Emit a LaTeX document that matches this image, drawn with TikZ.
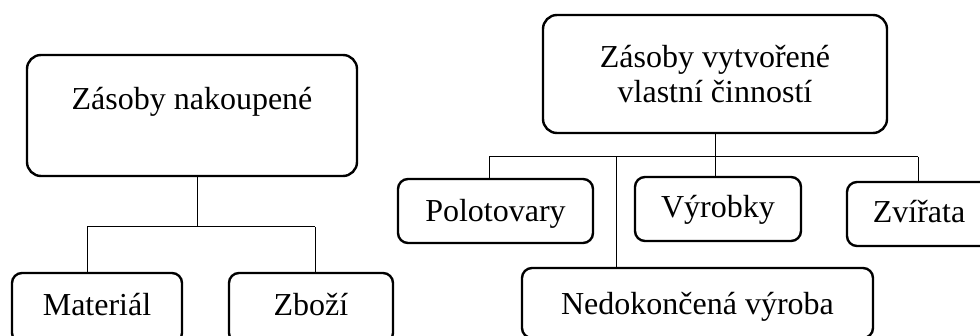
\documentclass[tikz,border=0pt]{standalone}
\usepackage{fontspec}
\setmainfont{Liberation Serif}
\begin{document}
\begin{tikzpicture}[x=1pt,y=-1pt,
  box/.style={draw, line width=2.4pt, rounded corners=10pt, inner sep=0pt,
    font=\fontsize{32}{35}\selectfont, align=center},
  conn/.style={draw, line width=1pt}]
\useasboundingbox (0,0) rectangle (980,336);
\clip (0,0) rectangle (980,336);
% left tree
\node[box, rounded corners=14pt, minimum width=330pt, minimum height=121pt,
  text height=0pt, text depth=11pt] (A) at (192,115.5) {Zásoby nakoupené};
\node[box, minimum width=170pt, minimum height=70pt,
  text height=16pt, text depth=0pt] (Mat) at (97,308) {Materiál};
\node[box, minimum width=164pt, minimum height=70pt,
  text height=16pt, text depth=0pt] (Zb) at (311,308) {Zboží};
% right tree
\node[box, rounded corners=14pt, minimum width=344pt, minimum height=118pt] (B) at (715,74)
  {Zásoby vytvořené\\vlastní činností};
\node[box, minimum width=195pt, minimum height=64pt,
  text height=22pt, text depth=0pt] (Pol) at (495.5,211) {Polotovary};
\node[box, minimum width=166pt, minimum height=64pt,
  text height=18pt, text depth=0pt] (Vyr) at (718,209) {Výrobky};
\node[box, minimum width=144pt, minimum height=64pt,
  text height=18pt, text depth=0pt] (Zv) at (919,214) {Zvířata};
\node[box, minimum width=351pt, minimum height=70pt,
  text height=24pt, text depth=0pt] (Ned) at (697.5,303) {Nedokončená výroba};
% junction points
\coordinate (jA) at (197.5,227);
\coordinate (jMat) at (87,227);
\coordinate (jZb) at (315,227);
\coordinate (jB) at (715,157);
\coordinate (jPol) at (489,157);
\coordinate (jNed) at (616,157);
\coordinate (jZv) at (918,157);
% connectors left
\draw[conn] (A.south -| jA) -- (jA);
\draw[conn] (jMat) -- (jZb);
\draw[conn] (jMat) -- (jMat |- Mat.north);
\draw[conn] (jZb) -- (jZb |- Zb.north);
% connectors right
\draw[conn] (B.south -| jB) -- (jB |- Vyr.north);
\draw[conn] (jPol) -- (jZv);
\draw[conn] (jPol) -- (jPol |- Pol.north);
\draw[conn] (jNed) -- (jNed |- Ned.north);
\draw[conn] (jZv) -- (jZv |- Zv.north);
\end{tikzpicture}
\end{document}
